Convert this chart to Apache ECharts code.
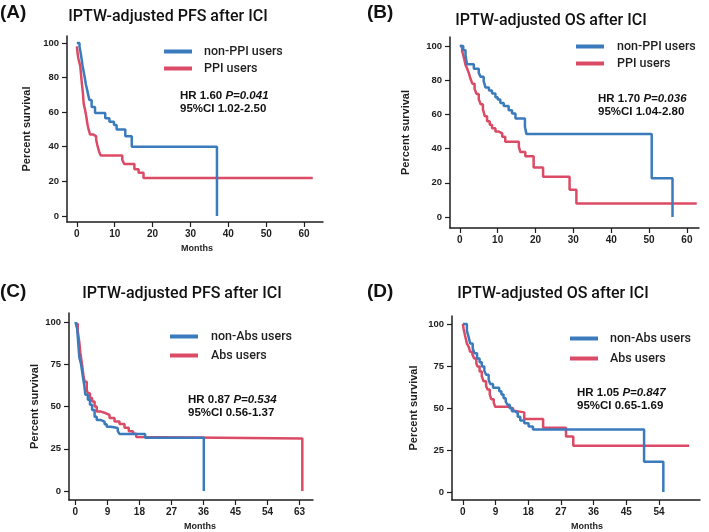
<!DOCTYPE html>
<html>
<head>
<meta charset="utf-8">
<script src="https://cdn.jsdelivr.net/npm/echarts@6/dist/echarts.min.js"></script>
<style>
  html, body { margin: 0; padding: 0; background: #fff; }
  #chart { width: 709px; height: 532px; }
</style>
</head>
<body>
<div id="chart"></div>
<script>
// (A) PFS by PPI use
const pfsNonPpiMonths = [0, 0.7, 1.1, 1.5, 2.0, 2.4, 2.8, 3.3, 3.9, 4.8, 7.5, 8.6, 9.8, 10.5, 12.8, 14.5, 37];
const pfsNonPpiSurv = [100, 98, 93, 87, 81, 76, 72, 67, 63, 59.5, 56.5, 54.5, 52.5, 50, 46, 40, 0];
const pfsPpiMonths = [0, 0.2, 0.4, 0.9, 1.1, 1.3, 1.6, 1.8, 2.2, 2.5, 2.8, 3.1, 3.5, 4.4, 5.1, 5.4, 5.9, 6.3, 12.0, 12.5, 15.2, 16.3, 17.6, 62.3];
const pfsPpiSurv = [98, 94, 91, 86.5, 82, 77, 71, 65, 61, 57.5, 53, 50, 47, 46, 44, 41, 37, 35, 32.5, 30, 27, 25, 22, 22];

// (B) OS by PPI use
const osNonPpiMonths = [0, 0.9, 1.5, 1.9, 3.7, 5.0, 5.5, 6.3, 6.8, 7.7, 8.5, 9.4, 10.0, 10.7, 11.6, 12.9, 13.8, 14.7, 17.2, 17.6, 50.7, 56.2];
const osNonPpiSurv = [100, 97.5, 94.5, 89.3, 86.8, 84.3, 82, 79.5, 75.7, 74, 72.2, 70, 68.7, 66.7, 64.9, 62.5, 60.6, 57.7, 52.8, 48.5, 22.7, 0];
const osPpiMonths = [0, 0.6, 1.1, 1.5, 1.9, 2.4, 2.8, 3.3, 3.9, 4.4, 5.0, 5.5, 6.1, 6.6, 7.2, 7.9, 8.5, 9.4, 10.3, 11.2, 12.0, 15.6, 16.0, 17.3, 19.5, 22.0, 29.0, 30.8, 62.6];
const osPpiSurv = [100, 97, 93, 89, 87, 84, 81, 78, 75, 72, 69, 66, 63, 59, 56, 54, 52, 50, 49, 47, 44, 41, 38, 35.5, 29, 23.5, 16, 8, 8];

// (C) PFS by antibiotic use
const pfsNonAbsMonths = [0, 0.5, 0.85, 1.1, 1.6, 2.1, 2.5, 2.8, 3.5, 4.1, 4.7, 5.4, 6.0, 7.2, 8.2, 8.8, 10.0, 11.9, 12.4, 19.6, 36.1];
const pfsNonAbsSurv = [100, 96, 86, 79, 75, 67.5, 62.5, 57, 54, 51, 48, 44, 42, 41, 39.5, 38, 37.3, 35.5, 33.8, 31.5, 0];
const pfsAbsMonths = [0, 0.65, 1.1, 1.4, 1.9, 2.25, 2.6, 3.2, 3.5, 4.1, 4.7, 5.4, 6.0, 7.2, 8.6, 9.6, 11.0, 12.4, 13.8, 15.0, 16.2, 17.1, 17.6, 63.8];
const pfsAbsSurv = [99, 94.7, 88, 81.7, 74.3, 68.5, 64.6, 59.7, 57.8, 55, 53, 50, 47, 46, 45, 43.2, 41.2, 39.7, 37.4, 35.4, 33.9, 32, 31, 0];

// (D) OS by antibiotic use
const osNonAbsMonths = [0, 1.1, 1.6, 2.0, 2.7, 3.2, 3.9, 4.6, 5.2, 5.9, 6.4, 7.1, 7.5, 8.3, 10.0, 10.6, 11.2, 11.8, 12.3, 12.9, 13.5, 14.4, 15.1, 15.8, 16.9, 18.1, 19.3, 49.9, 55.2];
const osNonAbsSurv = [100, 96, 92, 88.3, 85.4, 82.5, 79.5, 77.2, 74.7, 72.1, 69.8, 66.9, 64.3, 62, 60, 58.1, 55.8, 53.8, 51.9, 49.9, 48, 47, 44.8, 42.5, 40.9, 39, 37.2, 18.1, 0];
const osAbsMonths = [0, 0.2, 0.6, 1.1, 1.6, 2.0, 2.6, 3.1, 3.7, 4.0, 4.6, 5.2, 5.7, 6.4, 6.8, 7.4, 7.8, 8.5, 8.9, 12.6, 13.8, 14.4, 16.9, 22.1, 28.4, 30.4, 62.3];
const osAbsSurv = [100, 97, 93, 88.3, 86.4, 83.4, 82, 79.5, 76.6, 74.7, 71.7, 68.8, 65.9, 63, 61, 58.1, 55.2, 53.2, 50.7, 49.9, 48.3, 47.4, 43.5, 38.2, 33.1, 27.5, 27.5];

// tick labels
const xTicksAB = [0, 10, 20, 30, 40, 50, 60];
const xTicksC = [0, 9, 18, 27, 36, 45, 54, 63];
const xTicksD = [0, 9, 18, 27, 36, 45, 54];
const yTicksAB = [0, 20, 40, 60, 80, 100];
const yTicksCD = [0, 25, 50, 75, 100];

const FONT = "Liberation Sans, Arial, Helvetica, sans-serif";
const MED = "Roboto, Liberation Sans, Arial, sans-serif";
const BLUE = "#3b7bbd";
const RED = "#db4b66";
const INK = "#1e1e1e";

function pairs(t, s) {
  return t.map((x, i) => [x, s[i]]);
}

function xAxisOf(i, min, max, ticks, name, namePad) {
  return {
    type: "value",
    gridIndex: i,
    min: min,
    max: max,
    name: name,
    nameLocation: "middle",
    nameGap: 22,
    nameTextStyle: { fontFamily: FONT, fontWeight: "bold", fontSize: 9, color: INK, padding: namePad },
    axisLine: { onZero: false, lineStyle: { color: INK, width: 1.5 } },
    axisTick: { length: 5, customValues: ticks, lineStyle: { color: INK, width: 1.2 } },
    axisLabel: { customValues: ticks, margin: 7, fontFamily: FONT, fontWeight: "bold", fontSize: 10, color: INK },
    splitLine: { show: false }
  };
}

function yAxisOf(i, min, max, ticks, gap) {
  return {
    type: "value",
    gridIndex: i,
    min: min,
    max: max,
    name: "Percent survival",
    nameLocation: "middle",
    nameGap: gap,
    nameTextStyle: { fontFamily: FONT, fontWeight: "bold", fontSize: 11, color: INK },
    axisLine: { onZero: false, lineStyle: { color: INK, width: 1.5 } },
    axisTick: { length: 5, customValues: ticks, lineStyle: { color: INK, width: 1.2 } },
    axisLabel: { customValues: ticks, margin: 8, fontFamily: FONT, fontWeight: "bold", fontSize: 9.5, color: INK },
    splitLine: { show: false }
  };
}

function km(name, i, t, s, color) {
  return {
    name: name,
    type: "line",
    xAxisIndex: i,
    yAxisIndex: i,
    step: "end",
    symbol: "none",
    showSymbol: false,
    data: pairs(t, s),
    lineStyle: { width: 2.5, color: color },
    itemStyle: { color: color }
  };
}

function legendOf(left, top, names, gap, pad) {
  return {
    left: left,
    top: top,
    orient: "vertical",
    padding: 0,
    icon: "rect",
    itemWidth: 28,
    itemHeight: 4,
    itemGap: gap,
    data: names,
    textStyle: { fontFamily: MED, fontWeight: 500, fontSize: 12.5, color: INK, padding: [0, 0, 0, pad] }
  };
}

function text(x, y, str, size, weight, align, family) {
  return {
    type: "text",
    x: x,
    y: y,
    style: {
      text: str,
      fontFamily: family,
      fontSize: size,
      fontWeight: weight,
      fill: "#111",
      align: align,
      verticalAlign: "middle"
    }
  };
}

function hrText(x, y, str) {
  return {
    type: "text",
    x: x,
    y: y,
    style: {
      text: str,
      fontFamily: FONT,
      fontSize: 11.5,
      fontWeight: "bold",
      fill: "#111",
      lineHeight: 13,
      rich: {
        i: { fontFamily: FONT, fontSize: 11.5, fontWeight: "bold", fontStyle: "italic", lineHeight: 13, fill: "#111" }
      }
    }
  };
}

const chart = echarts.init(document.getElementById("chart"));

let options = {
  backgroundColor: "#fff",
  animation: false,
  grid: [
    { left: 67, top: 36, width: 256, height: 186 },
    { left: 450, top: 37, width: 249, height: 191 },
    { left: 69, top: 313, width: 244, height: 189 },
    { left: 452, top: 316, width: 248, height: 187 }
  ],
  xAxis: [
    xAxisOf(0, -2.6, 65, xTicksAB, "Months", [0, 0, 0, 4]),
    xAxisOf(1, -2.6, 63.2, xTicksAB, "", 0),
    xAxisOf(2, -1.8, 66.8, xTicksC, "Months", [0, 0, 0, 18]),
    xAxisOf(3, -3, 65.3, xTicksD, "Months", [0, 0, 0, 22])
  ],
  yAxis: [
    yAxisOf(0, -3.5, 104, yTicksAB, 35),
    yAxisOf(1, -6.4, 105.3, yTicksAB, 39),
    yAxisOf(2, -5.3, 105.3, yTicksCD, 29),
    yAxisOf(3, -4.7, 104.7, yTicksCD, 33)
  ],
  legend: [
    legendOf(164, 45, ["non-PPI users", "PPI users"], 4, 7),
    legendOf(576, 40, ["non-PPI users", "PPI users"], 4, 8),
    legendOf(170, 330, ["non-Abs users", "Abs users"], 6, 8),
    legendOf(570, 332, ["non-Abs users", "Abs users"], 7, 7)
  ],
  graphic: [
    text(0, 13, "(A)", 19, "bold", "left", FONT),
    text(367, 13, "(B)", 19, "bold", "left", FONT),
    text(0, 292, "(C)", 19, "bold", "left", FONT),
    text(367, 292, "(D)", 19, "bold", "left", FONT),
    text(168, 17, "IPTW-adjusted PFS after ICI", 16, 500, "center", MED),
    text(551, 21, "IPTW-adjusted OS after ICI", 16, 500, "center", MED),
    text(182, 294, "IPTW-adjusted PFS after ICI", 16, 500, "center", MED),
    text(553, 294, "IPTW-adjusted OS after ICI", 16, 500, "center", MED),
    hrText(180, 89.5, "HR 1.60 {i|P=0.041}\n95%CI 1.02-2.50"),
    hrText(598, 92, "HR 1.70 {i|P=0.036}\n95%CI 1.04-2.80"),
    hrText(188, 393, "HR 0.87 {i|P=0.534}\n95%CI 0.56-1.37"),
    hrText(577, 386, "HR 1.05 {i|P=0.847}\n95%CI 0.65-1.69")
  ],
  series: [
    km("PPI users", 0, pfsPpiMonths, pfsPpiSurv, RED),
    km("non-PPI users", 0, pfsNonPpiMonths, pfsNonPpiSurv, BLUE),
    km("PPI users", 1, osPpiMonths, osPpiSurv, RED),
    km("non-PPI users", 1, osNonPpiMonths, osNonPpiSurv, BLUE),
    km("Abs users", 2, pfsAbsMonths, pfsAbsSurv, RED),
    km("non-Abs users", 2, pfsNonAbsMonths, pfsNonAbsSurv, BLUE),
    km("Abs users", 3, osAbsMonths, osAbsSurv, RED),
    km("non-Abs users", 3, osNonAbsMonths, osNonAbsSurv, BLUE)
  ]
};

chart.setOption(options);
</script>
</body>
</html>
